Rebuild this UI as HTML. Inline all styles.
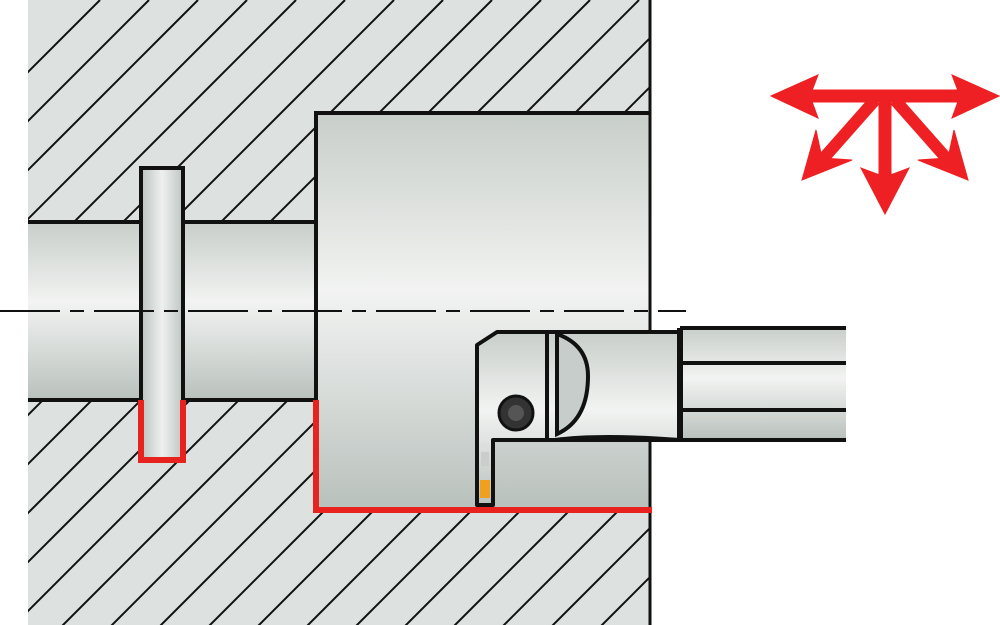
<!DOCTYPE html>
<html><head><style>html,body{margin:0;background:#fff;width:1000px;height:625px;overflow:hidden}svg{display:block}</style></head><body>
<svg width="1000" height="625" viewBox="0 0 1000 625" xmlns="http://www.w3.org/2000/svg">
<defs>
<linearGradient id="gv" x1="0" y1="0" x2="0" y2="1">
<stop offset="0" stop-color="#c8ceca"/><stop offset="0.45" stop-color="#f2f3f2"/><stop offset="1" stop-color="#b9c1bd"/></linearGradient>
<linearGradient id="gh" x1="0" y1="0" x2="1" y2="0">
<stop offset="0" stop-color="#bac2bf"/><stop offset="0.5" stop-color="#eef0ef"/><stop offset="1" stop-color="#bfc6c3"/></linearGradient>
<clipPath id="wp"><path d="M28 0H650V113H316V400H28Z M28 400H316V508H650V625H28Z"/></clipPath>
</defs>
<rect x="28" y="0" width="622" height="625" fill="#dde1e0"/>
<g clip-path="url(#wp)" stroke="#111" stroke-width="2">
<line x1="-600" y1="700" x2="100" y2="0"/><line x1="-551" y1="700" x2="149" y2="0"/><line x1="-502" y1="700" x2="198" y2="0"/><line x1="-453" y1="700" x2="247" y2="0"/><line x1="-404" y1="700" x2="296" y2="0"/><line x1="-355" y1="700" x2="345" y2="0"/><line x1="-306" y1="700" x2="394" y2="0"/><line x1="-257" y1="700" x2="443" y2="0"/><line x1="-208" y1="700" x2="492" y2="0"/><line x1="-159" y1="700" x2="541" y2="0"/><line x1="-110" y1="700" x2="590" y2="0"/><line x1="-61" y1="700" x2="639" y2="0"/><line x1="-12" y1="700" x2="688" y2="0"/><line x1="37" y1="700" x2="737" y2="0"/><line x1="86" y1="700" x2="786" y2="0"/><line x1="135" y1="700" x2="835" y2="0"/><line x1="184" y1="700" x2="884" y2="0"/><line x1="233" y1="700" x2="933" y2="0"/><line x1="282" y1="700" x2="982" y2="0"/><line x1="331" y1="700" x2="1031" y2="0"/><line x1="380" y1="700" x2="1080" y2="0"/><line x1="429" y1="700" x2="1129" y2="0"/><line x1="478" y1="700" x2="1178" y2="0"/><line x1="527" y1="700" x2="1227" y2="0"/><line x1="576" y1="700" x2="1276" y2="0"/><line x1="625" y1="700" x2="1325" y2="0"/><line x1="674" y1="700" x2="1374" y2="0"/>
</g>
<rect x="28" y="222" width="290" height="178" fill="url(#gv)"/>
<rect x="316" y="113" width="334" height="395" fill="url(#gv)"/>
<rect x="141" y="168" width="42" height="292" fill="url(#gh)"/>
<g stroke="#111" stroke-width="4" fill="none">
<path d="M28 222H141M183 222H316"/>
<path d="M28 400H141M183 400H316"/>
<path d="M141 400V168H183V400"/>
<path d="M316 400V113H650"/>
</g>
<line x1="650" y1="0" x2="650" y2="625" stroke="#111" stroke-width="3"/>
<line x1="0" y1="311" x2="686" y2="311" stroke="#111" stroke-width="2" stroke-dasharray="60,10,14,10"/>
<path d="M141 400V460H183V400" stroke="#e8231f" stroke-width="6" fill="none"/>
<path d="M316 400V510H652" stroke="#e8231f" stroke-width="6" fill="none"/>
<rect x="680" y="328" width="166" height="112" fill="url(#gv)"/>
<g stroke="#111" stroke-width="4">
<line x1="680" y1="328" x2="846" y2="328"/><line x1="680" y1="363" x2="846" y2="363"/>
<line x1="680" y1="410" x2="846" y2="410"/><line x1="680" y1="440" x2="846" y2="440"/>
</g>
<path d="M497 332H680V440H493V505H477V345Z" fill="url(#gv)" stroke="#111" stroke-width="4" stroke-linejoin="round"/>
<line x1="680" y1="328" x2="680" y2="442" stroke="#111" stroke-width="6"/>
<path d="M493 440H555Q600 434 680 440" stroke="#111" stroke-width="4" fill="none"/>
<line x1="547" y1="332" x2="547" y2="438" stroke="#111" stroke-width="4"/>
<path d="M557 334Q588 345 588 376Q588 420 557 434Z" fill="#c6cdca" stroke="#111" stroke-width="4"/>
<circle cx="516" cy="413" r="17" fill="#333" stroke="#111" stroke-width="3"/>
<circle cx="516" cy="413" r="8" fill="#555"/>
<rect x="481" y="443" width="8" height="6" fill="#ddd"/>
<rect x="481" y="452" width="8" height="14" fill="#ccc"/>
<rect x="480" y="480" width="10" height="18" fill="#f0a020"/>
<g fill="#ee2024" stroke="#ee2024">
<line x1="800" y1="96" x2="970" y2="96" stroke-width="13"/>
<polygon points="771,96 818,75 810,96 818,118" stroke-width="1"/>
<polygon points="999,96 952,75 960,96 952,118" stroke-width="1"/>
<line x1="885" y1="96" x2="885" y2="185" stroke-width="13"/>
<polygon points="885,214 861,168 885,177 909,168" stroke-width="1"/>
<line x1="875" y1="100" x2="822" y2="160" stroke-width="12"/>
<polygon points="802,180 816,130 822,158 852,160" stroke-width="1"/>
<line x1="895" y1="100" x2="948" y2="160" stroke-width="12"/>
<polygon points="968,180 954,130 948,158 918,160" stroke-width="1"/>
</g>
</svg>
</body></html>
